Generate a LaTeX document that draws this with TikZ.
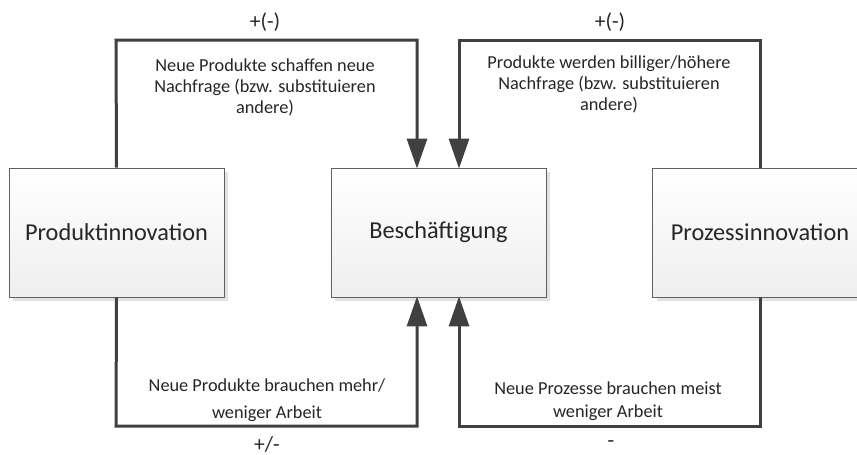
\documentclass[tikz,border=0pt]{standalone}
\usepackage{fontspec}
\setmainfont{Carlito}
\usetikzlibrary{arrows.meta,shadows,calc}
\begin{document}
\begin{tikzpicture}[x=1pt,y=-1pt,
  box/.style={draw=gray!75!black, line width=0.8pt, top color=white, bottom color=gray!13,
    minimum width=215pt, minimum height=129pt, inner sep=0pt,
    font=\fontsize{24.3}{29}\selectfont, text=black!85,
    drop shadow={shadow xshift=4pt, shadow yshift=-4pt, fill=gray!45, opacity=0.5}},
  conn/.style={draw=black!75, line width=3pt},
  arr/.style={conn, -{Triangle[width=20pt,length=30pt]}, shorten >=-1pt},
  lbl/.style={font=\fontsize{18.3}{21}\selectfont, text=black!85, align=center, inner sep=0pt},
  sign/.style={font=\fontsize{21.5}{25}\selectfont, text=black!85, inner sep=0pt}
]
\useasboundingbox (0,0) rectangle (857,455);
\begin{scope}
\clip (0,0) rectangle (857,455);
\node[box] (P) at (116.5,232.5) {Produktinnovation};
\node[box] (B) at (438.5,232.5) {Beschäftigung};
\node[box] (Z) at (760,232.5) {Prozessinnovation};
\end{scope}

\coordinate (tl) at (116,40);
\coordinate (tr) at (760,40);
\coordinate (bl) at (116,426);
\coordinate (br) at (760,426);

\draw[arr] (P.north) -- (tl) -| ([xshift=-21.5pt]B.north);
\draw[arr] (Z.north) -- (tr) -| ([xshift=20.5pt]B.north);
\draw[arr] (P.south) -- (bl) -| ([xshift=-21.5pt]B.south);
\draw[arr] (Z.south) -- (br) -| ([xshift=20.5pt]B.south);

\node[lbl] (t1) at (265,87.5) {Neue Produkte schaffen neue\\Nachfrage (bzw. substituieren\\andere)};
\node[lbl] (t2) at (609,84) {Produkte werden billiger/höhere\\Nachfrage (bzw. substituieren\\andere)};
\node[lbl] (t3) at (267,400.5) {Neue Produkte brauchen mehr/\\[6pt]weniger Arbeit};
\node[lbl] (t4) at (608,401.5) {Neue Prozesse brauchen meist\\[2pt]weniger Arbeit};

\node[sign] (s1) at (265,22) {+(-)};
\node[sign] (s2) at (610,22) {+(-)};
\node[sign] (s3) at (267,444) {+/-};
\node[sign] (s4) at (611,444) {-};
\end{tikzpicture}
\end{document}
